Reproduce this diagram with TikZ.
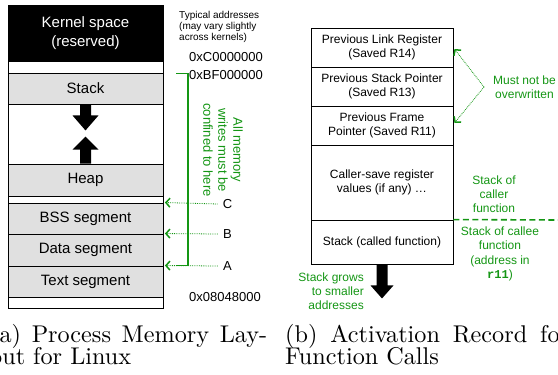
\documentclass[tikz,border=0pt]{standalone}
\usepackage{fontspec}
\usetikzlibrary{arrows.meta,calc}
\newfontfamily\lsans{Liberation Sans}
\newfontfamily\lmono{Liberation Mono}
% caption face: the 10pt design of Latin Modern, magnified
\newfontfamily\capfont{lmroman10-regular}[Extension=.otf]
\definecolor{annot}{RGB}{20,150,20}
\definecolor{segfill}{RGB}{224,224,224}

\tikzset{
  seg/.style={draw=black, line width=0.9pt, fill=segfill, minimum width=155pt,
    inner sep=0pt, align=center, font=\lsans\fontsize{15}{19}\selectfont},
  kern/.style={seg, fill=black, text=white},
  rec/.style={draw=black, line width=0.9pt, minimum width=142pt, inner sep=0pt,
    align=center, font=\lsans\fontsize{12}{14}\selectfont},
  note/.style={inner sep=0pt, text=annot, font=\lsans\fontsize{12}{14}\selectfont},
  addr/.style={inner sep=0pt, anchor=west, font=\lsans\fontsize{13}{15}\selectfont},
  gdot/.style={draw=annot, line width=0.8pt, densely dotted,
    -{Straight Barb[length=4pt,width=9pt,line width=1.5pt]}},
  captext/.style={inner sep=0pt, anchor=base west, font=\capfont\fontsize{24.2}{22}\selectfont},
}

\begin{document}
\begin{tikzpicture}[x=1pt, y=-1pt]
\useasboundingbox (0,0) rectangle (558,375);
\clip (0,0) rectangle (558,375);

% ---------------- process memory layout ----------------
\node[draw=black, line width=0.9pt, minimum width=155pt, minimum height=303pt,
      inner sep=0pt] (mem) at (85.5,156.5) {};
\node[kern, minimum height=56pt] (kernel) at (85.5,33) {Kernel space\\(reserved)};
\node[seg, minimum height=31pt] (stack) at (85.5,88.5) {Stack};
\node[seg, minimum height=32pt] (heap) at (85.5,180) {Heap};
\node[seg, minimum height=31pt] (bss) at (85.5,218.5) {BSS segment};
\node[seg, minimum height=32pt] (data) at (85.5,250) {Data segment};
\node[seg, minimum height=31pt] (text) at (85.5,281.5) {Text segment};

% stack grows down, heap grows up
\begin{scope}[shift={(stack.south)}]
  \fill (-5.5,0) -- (5.5,0) -- (5.5,11) -- (13,11) -- (0,26) -- (-13,11) -- (-5.5,11) -- cycle;
\end{scope}
\begin{scope}[shift={(heap.north)}]
  \fill (-5.5,0) -- (5.5,0) -- (5.5,-14) -- (13,-14) -- (0,-27) -- (-13,-14) -- (-5.5,-14) -- cycle;
\end{scope}

% addresses
\node[inner sep=0pt, anchor=west, align=left, font=\lsans\fontsize{10}{11}\selectfont]
  (typical) at (179,27) {Typical addresses\\(may vary slightly\\across kernels)};
\node[addr] (kaddr) at (189,57) {0xC0000000};
\node[addr] (saddr) at (189,75) {0xBF000000};
\node[addr] (taddr) at (189,297) {0x08048000};

% region allowed for writes
\coordinate (brtop) at (188,73.5);
\coordinate (brbot) at (188,265.5);
\draw[annot, line width=1.3pt] ([xshift=-12pt]brtop) -- (brtop) -- (brbot) -- ([xshift=-12pt]brbot);
\node[note, rotate=-90, align=center, font=\lsans\fontsize{13}{15}\selectfont]
  (confine) at (223,150) {All memory\\writes must be\\confined to here};

\node[inner sep=0pt, font=\lsans\fontsize{13}{15}\selectfont] (labC) at (227.5,204) {C};
\node[inner sep=0pt, font=\lsans\fontsize{13}{15}\selectfont] (labB) at (227.5,234) {B};
\node[inner sep=0pt, font=\lsans\fontsize{13}{15}\selectfont] (labA) at (227.5,266) {A};
\draw[gdot] ([xshift=-5pt]labC.west) -- ([xshift=1.5pt]bss.north east);
\draw[gdot] ([xshift=-5pt]labB.west) -- ([xshift=1.5pt]data.north east);
\draw[gdot] ([xshift=-5pt]labA.west) -- ([xshift=1.5pt]text.north east);

% ---------------- activation record ----------------
\node[rec, minimum height=39pt] (lr) at (382,47.5) {Previous Link Register\\(Saved R14)};
\node[rec, minimum height=39pt] (sp) at (382,86.5) {Previous Stack Pointer\\(Saved R13)};
\node[rec, minimum height=39pt] (fp) at (382,125.5) {Previous Frame\\Pointer (Saved R11)};
\node[rec, minimum height=75pt] (cs) at (382,182.5) {\raisebox{-1.5pt}{\parbox{140pt}{\centering Caller-save register\\values (if any) \dots}}};
\node[rec, minimum height=44pt] (callee) at (382,242) {Stack (called function)};

\node[note, align=center] (mnb) at (524.5,87.5) {Must not be\\overwritten};
\coordinate (fork) at (484,87);
\draw[gdot] (fork) -- ($(lr.east)+(1,1.5)$);
\draw[gdot] (fork) -- ($(fp.east)+(1,-2.5)$);

\node[note, align=center] (caller) at (494,194) {Stack of\\caller\\function};
\coordinate (rim) at (560,220);
\draw[annot, line width=1.6pt, dash pattern=on 6pt off 3.5pt] (callee.north east) -- (rim);
\node[note, align=center, font=\lsans\fontsize{12}{14.5}\selectfont]
  (calleelbl) at (500,254) {Stack of callee\\function\\(address in\\{\lmono\bfseries r11})};

\begin{scope}[shift={(callee.south)}]
  \fill (-5.5,0) -- (5.5,0) -- (5.5,21) -- (11.5,21) -- (0,34) -- (-11.5,21) -- (-5.5,21) -- cycle;
\end{scope}
\node[note, anchor=east, align=right] (grows) at (364,291) {Stack grows\\to smaller\\addresses};

% ---------------- captions ----------------
\node[captext] (capa1) at (-10,342) {\makebox[277pt][s]{(a) Process Memory Lay-}};
\node[captext] (capa2) at (-10,364) {out for Linux};
\node[captext] (capb1) at (285,342) {\makebox[284pt][s]{(b) Activation Record for}};
\node[captext] (capb2) at (285,364) {Function Calls};
\end{tikzpicture}
\end{document}
